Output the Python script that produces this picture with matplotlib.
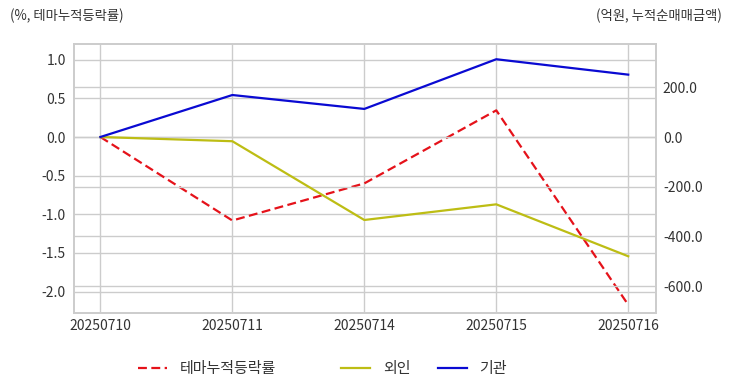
import matplotlib
matplotlib.use("Agg")
import matplotlib.pyplot as plt
from matplotlib.ticker import FormatStrFormatter

plt.rcParams['font.family'] = ['Noto Sans CJK KR', 'DejaVu Sans']

dates = ['20250710', '20250711', '20250714', '20250715', '20250716']
theme_ret = [0.0, -1.08, -0.60, 0.345, -2.17]
foreign = [0.0, -17.0, -334.0, -271.0, -480.0]
institution = [0.0, 169.0, 113.0, 313.0, 251.0]
left_ticks = [1.0, 0.5, 0.0, -0.5, -1.0, -1.5, -2.0]
right_ticks = [200, 0, -200, -400, -600]

fig = plt.figure(figsize=(7.32, 3.92), dpi=100)
ax = fig.add_axes([0.1011, 0.2008, 0.795, 0.6877])
ax2 = ax.twinx()

x = list(range(len(dates)))
grid_c = '#cccccc'
text_c = '#333333'

l1, = ax.plot(x, theme_ret, color='#e5121a', linestyle=(0, (4, 2)), lw=1.6, label='테마누적등락률')
l2, = ax2.plot(x, foreign, color='#bdbd14', lw=1.6, label='외인')
l3, = ax2.plot(x, institution, color='#0a0ad2', lw=1.6, label='기관')

ax.set_xlim(-0.2, 4.21)
ax.set_ylim(-2.28, 1.207)
ax2.set_ylim(-709.5, 375.5)
ax.set_xticks(x)
ax.set_xticklabels(dates)
ax.set_yticks(left_ticks)
ax2.set_yticks(right_ticks)
ax.yaxis.set_major_formatter(FormatStrFormatter('%.1f'))
ax2.yaxis.set_major_formatter(FormatStrFormatter('%.1f'))

for a in (ax, ax2):
    a.grid(True, color=grid_c, lw=1.0)
    a.set_axisbelow(True)
    a.tick_params(length=0, labelsize=10, colors=text_c, pad=6)
    for s in a.spines.values():
        s.set_color(grid_c)
        s.set_linewidth(1.2)
ax.xaxis.grid(True)
ax2.xaxis.grid(False)
ax.tick_params(axis='x', pad=4)
ax2.tick_params(axis='y', pad=5)

fig.text(10/732, 1 - 16/392, '(%, 테마누적등락률)', fontsize=9.6, color=text_c, ha='left', va='center')
fig.text(722/732, 1 - 16/392, '(억원, 누적순매매금액)', fontsize=9.6, color=text_c, ha='right', va='center')

leg_kw = dict(frameon=False, fontsize=10.8, handlelength=1.95, handletextpad=0.85,
              borderaxespad=0, borderpad=0, labelcolor=text_c)
lg1 = fig.legend(handles=[l1], loc='center left', bbox_to_anchor=(138/732, 1 - 369/392), **leg_kw)
lg2 = fig.legend(handles=[l2, l3], loc='center left', ncol=2, columnspacing=1.8,
                 bbox_to_anchor=(341/732, 1 - 369/392), **leg_kw)

fig.savefig('out.png', dpi=100)
